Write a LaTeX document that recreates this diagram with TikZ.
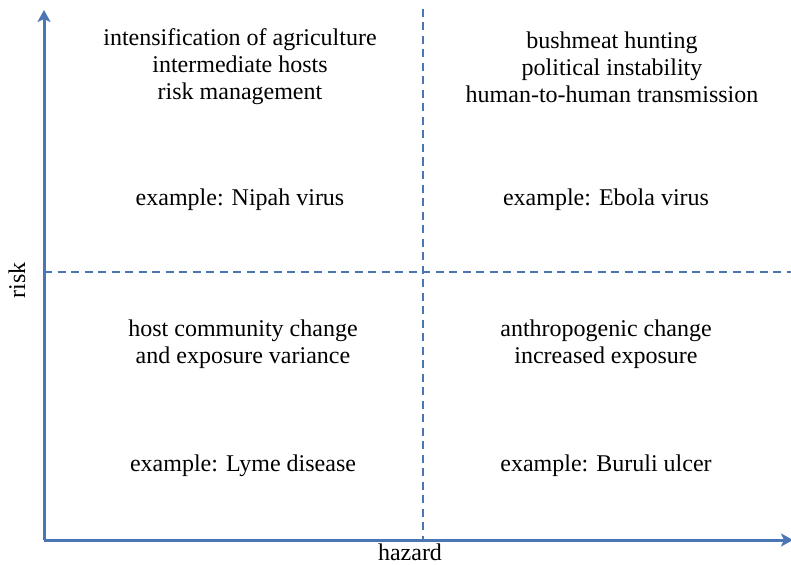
\documentclass[tikz,border=0pt]{standalone}
\usepackage{fontspec}
\setmainfont{Liberation Serif}
\usetikzlibrary{arrows.meta}
\definecolor{axisblue}{HTML}{4A76B4}
\begin{document}
\begin{tikzpicture}[x=1pt,y=-1pt,
  lbl/.style={font=\fontsize{24}{27}\selectfont, align=center, inner sep=0pt},
  axisline/.style={draw=axisblue, line width=3pt, -{Stealth[length=12pt,width=13pt,inset=3pt]}},
  divider/.style={draw=axisblue, line width=2.6pt, dash pattern=on 8pt off 5.5pt}]
\useasboundingbox (0,0) rectangle (791,564);
\coordinate (o) at (44,540);
\coordinate (ytop) at (44,10);
\coordinate (xend) at (793,540);
\coordinate (vtop) at (423,9);
\coordinate (vbot) at (423,540);
\coordinate (hl) at (44,272);
\coordinate (hr) at (791,272);
\draw[divider] (vtop) -- (vbot);
\draw[divider] (hl) -- (hr);
\draw[axisline] (o) -- (ytop);
\draw[axisline] (o) -- (xend);
\node[lbl] (tl) at (240,67) {intensification of agriculture\\intermediate hosts\\risk management};
\node[lbl] (tlx) at (240,200) {example: Nipah virus};
\node[lbl] (tr) at (612,67) {bushmeat hunting\\political instability\\human-to-human transmission};
\node[lbl] (trx) at (606,200) {example: Ebola virus};
\node[lbl] (bl) at (243,344) {host community change\\and exposure variance};
\node[lbl] (blx) at (243,466) {example: Lyme disease};
\node[lbl] (br) at (606,344) {anthropogenic change\\increased exposure};
\node[lbl] (brx) at (606,466) {example: Buruli ulcer};
\node[lbl, rotate=90] (risk) at (17,280) {risk};
\node[font=\fontsize{24}{27}\selectfont, inner sep=0pt, anchor=base] (haz) at (410,560) {hazard};
\end{tikzpicture}
\end{document}
